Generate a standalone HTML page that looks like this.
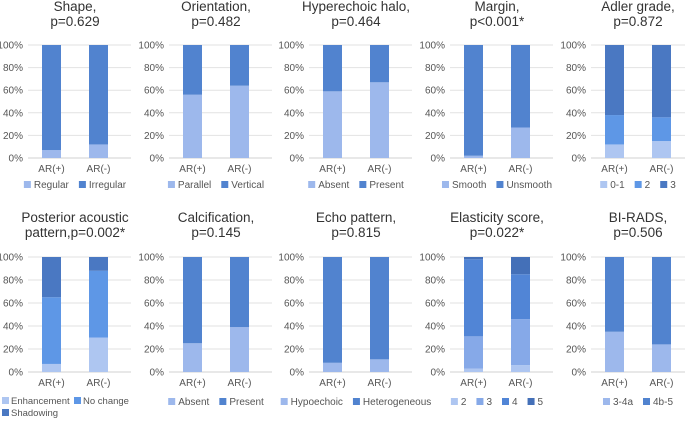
<!DOCTYPE html>
<html><head><meta charset="utf-8">
<style>
html,body{margin:0;padding:0;background:#fff;}
svg{display:block;font-family:"Liberation Sans",Arial,sans-serif;}
</style></head>
<body>
<svg id="chart" width="685" height="421" viewBox="0 0 685 421" xmlns="http://www.w3.org/2000/svg"></svg>
<script>
const panelTitles = [
  ["Shape,","p=0.629"],["Orientation,","p=0.482"],["Hyperechoic halo,","p=0.464"],["Margin,","p<0.001*"],["Adler grade,","p=0.872"],
  ["Posterior acoustic","pattern,p=0.002*"],["Calcification,","p=0.145"],["Echo pattern,","p=0.815"],["Elasticity score,","p=0.022*"],["BI-RADS,","p=0.506"]
];
const categories = ["AR(+)","AR(-)"];
const seriesNames = [
  ["Regular","Irregular"],["Parallel","Vertical"],["Absent","Present"],["Smooth","Unsmooth"],["0-1","2","3"],
  ["Enhancement","No change","Shadowing"],["Absent","Present"],["Hypoechoic","Heterogeneous"],["2","3","4","5"],["3-4a","4b-5"]
];
// values[panel][series] = [AR(+), AR(-)] percentages
const seriesValues = [
  [[7,12],[93,88]],
  [[56,64],[44,36]],
  [[59,67],[41,33]],
  [[2,27],[98,73]],
  [[12,15],[26,21],[62,64]],
  [[7,30],[58,58],[35,12]],
  [[25,39],[75,61]],
  [[8,11],[92,89]],
  [[3,6],[28,40],[67,39],[2,15]],
  [[35,24],[65,76]]
];
const tickLabels = ["0%","20%","40%","60%","80%","100%"];
const tickValues = [0,20,40,60,80,100];

const palettes = {
  2:["#9db8ec","#5183cf"],
  3:["#aec6f1","#5e97e6","#4a78c2"],
  4:["#aec6f1","#86a9e8","#5185d6","#4470b8"]
};
const svg = document.getElementById('chart');
const NS = "http://www.w3.org/2000/svg";
function mk(tag, attrs, parent){
  const e = document.createElementNS(NS, tag);
  for (const k in attrs) e.setAttribute(k, attrs[k]);
  (parent||svg).appendChild(e);
  return e;
}
const panelX = [0,141,281,422,563];
const rowTop = [45,257], rowBot = [158,372];
const ctx = document.createElement('canvas').getContext('2d');
ctx.font = '10px "Liberation Sans", Arial';

for (let p=0; p<10; p++){
  const row = Math.floor(p/5), col = p%5;
  const ox = panelX[col];
  const g = mk('g',{});
  
  
  const top = rowTop[row], bot = rowBot[row];
  const yScale = v => bot - (bot-top)*v/100;
  const xCenter = i => ox + 51.5 + i*47;
  const ty = row===0 ? 11 : 222;
  panelTitles[p].forEach((t,i)=>{
    const tt = mk('text',{x:ox+75,y:ty+i*15,'text-anchor':'middle','font-size':'13.5',fill:'#333'},g);
    tt.textContent = t;
    
    
  });
  tickValues.forEach((v,i)=>{
    const y = yScale(v);
    const gl = mk('line',{x1:ox+28,x2:ox+131,y1:y,y2:y,stroke:v===0?'#d0d0d0':'#e2e2e2','stroke-width':1},g);
    
    
    const tl = mk('text',{x:ox+23,y:y+3.5,'text-anchor':'end','font-size':'10',fill:'#555'},g);
    tl.textContent = tickLabels[i];
    
    
  });
  const vals = seriesValues[p];
  const pal = palettes[vals.length];
  categories.forEach((c,ci)=>{
    let acc = 0;
    vals.forEach((s,si)=>{
      const y1 = yScale(acc+s[ci]), y0 = yScale(acc);
      const r = mk('rect',{x:xCenter(ci)-9.5,y:y1,width:19,height:Math.max(0,y0-y1),fill:pal[si]},g);
      
      
      acc += s[ci];
    });
    const xl = mk('text',{x:xCenter(ci),y:bot+14,'text-anchor':'middle','font-size':'10',fill:'#555'},g);
    xl.textContent = c;
    
    
  });
  const names = seriesNames[p];
  const ly = row===0 ? 188 : 405;
  if (p===5){
    const items = [[ox+2,ly-1,0],[ox+74,ly-1,1],[ox+2,ly+11,2]];
    items.forEach(([x,y,i])=>{
      const sw = mk('rect',{x:x,y:y-7,width:7,height:7,fill:pal[i]},g);
      
      
      const lt = mk('text',{x:x+9,y:y,'font-size':'9.5',fill:'#555'},g);
      lt.textContent = names[i];
      
      
    });
  } else {
    const widths = names.map(n=>ctx.measureText(n).width+10);
    const gap = 10;
    const total = widths.reduce((a,b)=>a+b,0)+gap*(names.length-1);
    let x = ox+75-total/2;
    names.forEach((n,i)=>{
      const sw = mk('rect',{x:x,y:ly-7,width:7,height:7,fill:pal[i]},g);
      
      
      const lt = mk('text',{x:x+10,y:ly,'font-size':'10',fill:'#555'},g);
      lt.textContent = n;
      
      
      x += widths[i]+gap;
    });
  }
}
</script>
</body></html>
